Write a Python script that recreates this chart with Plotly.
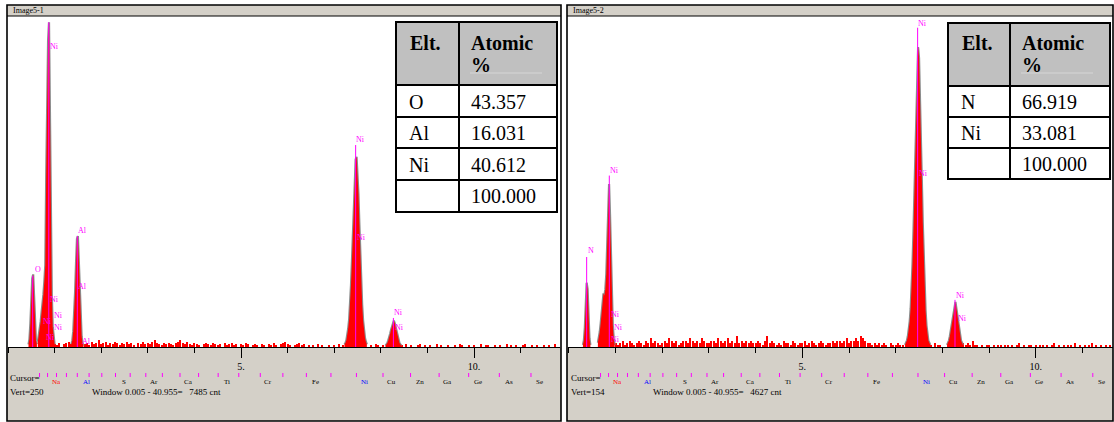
import plotly.graph_objects as go

W, H = 1114, 422

# ---------------- data ----------------
BG_STEP_KEV = 0.05  # channel-group width used for the background readings

left_bg_counts = [
    0, 0, 0, 0, 0, 0, 0, 0, 0, 0,
    0, 0, 0, 0, 0, 0, 0, 0, 0, 0,
    2, 1, 3, 0, 2, 3, 4, 2, 3, 0,
    0, 0, 0, 2, 3, 1, 4, 2, 3, 5,
    2, 3, 4, 1, 3, 2, 4, 3, 1, 3,
    2, 4, 2, 3, 1, 0, 3, 2, 4, 2,
    3, 2, 4, 5, 3, 2, 1, 3, 2, 3,
    2, 1, 3, 4, 5, 3, 2, 4, 2, 1,
    3, 2, 1, 0, 2, 3, 2, 1, 3, 2,
    1, 2, 0, 3, 1, 2, 3, 1, 2, 0,
    2, 1, 3, 2, 0, 1, 2, 1, 0, 2,
    1, 0, 2, 1, 3, 1, 0, 2, 3, 4,
    2, 1, 0, 1, 2, 3, 1, 2, 0, 1,
    0, 1, 0, 2, 0, 1, 0, 0, 1, 0,
    1, 0, 2, 0, 1, 0, 0, 0, 0, 0,
    0, 0, 0, 0, 0, 0, 1, 0, 2, 1,
    0, 1, 0, 0, 0, 0, 0, 0, 0, 1,
    0, 2, 0, 1, 0, 0, 1, 2, 0, 1,
    0, 1, 0, 0, 2, 0, 1, 0, 0, 1,
    0, 0, 1, 0, 2, 1, 0, 0, 1, 0,
    1, 0, 0, 2, 0, 1, 1, 0, 0, 1,
    0, 1, 0, 0, 2, 0, 1, 0, 1, 0,
    0, 1, 2, 0, 0, 1, 0, 1, 0, 0,
    1, 0, 1, 0, 0, 2, 0, 0,
]
right_bg_counts = [
    0, 0, 0, 0, 0, 0, 0, 0, 0, 0,
    0, 0, 0, 0, 0, 0, 0, 0, 0, 0,
    2, 1, 2, 3, 1, 2, 3, 2, 1, 2,
    3, 2, 1, 3, 2, 4, 2, 3, 2, 1,
    2, 3, 2, 4, 3, 2, 3, 1, 2, 3,
    3, 2, 4, 3, 2, 3, 2, 4, 3, 2,
    2, 3, 3, 2, 4, 3, 2, 3, 4, 2,
    3, 2, 5, 2, 3, 2, 3, 2, 3, 2,
    2, 3, 2, 1, 3, 5, 2, 3, 2, 1,
    2, 1, 3, 2, 2, 1, 3, 2, 1, 2,
    2, 3, 1, 2, 3, 2, 1, 2, 3, 2,
    1, 2, 2, 3, 2, 3, 3, 2, 3, 4,
    2, 3, 3, 4, 3, 5, 4, 3, 2, 2,
    1, 2, 1, 2, 1, 2, 1, 0, 2, 1,
    1, 2, 1, 1, 0, 0, 0, 0, 0, 0,
    0, 0, 0, 0, 0, 1, 0, 2, 1, 1,
    0, 0, 0, 0, 0, 0, 0, 0, 1, 2,
    1, 2, 1, 3, 1, 1, 0, 1, 0, 1,
    1, 0, 1, 0, 1, 1, 0, 1, 1, 0,
    1, 0, 1, 2, 0, 1, 0, 1, 1, 0,
    1, 0, 1, 1, 0, 1, 0, 1, 2, 0,
    1, 0, 1, 0, 1, 1, 0, 2, 0, 1,
    0, 1, 0, 1, 2, 0, 1, 0, 1, 0,
    1, 0, 1, 0, 1, 0, 1, 0,
]

# peaks, spectrum 5-1
left_O_keV = [0.44, 0.46, 0.48, 0.50, 0.52, 0.54, 0.56, 0.58, 0.60, 0.62]
left_O_counts = [2, 6, 18, 36, 52, 55, 40, 16, 5, 2]
left_NiL_keV = [0.64, 0.66, 0.68, 0.70, 0.72, 0.74, 0.76, 0.78, 0.80, 0.82,
                0.84, 0.86, 0.88, 0.90, 0.92, 0.94, 0.96, 0.98, 1.00]
left_NiL_counts = [4, 8, 13, 19, 26, 32, 40, 50, 62, 130,
                   195, 232, 246, 160, 90, 40, 15, 6, 2]
left_Al_keV = [1.36, 1.38, 1.40, 1.42, 1.44, 1.46, 1.48, 1.50, 1.52, 1.54,
               1.56, 1.58, 1.60, 1.62]
left_Al_counts = [2, 5, 12, 24, 42, 64, 82, 84, 66, 40, 20, 8, 3, 1]
left_NiKa_keV = [7.22, 7.24, 7.26, 7.28, 7.30, 7.32, 7.34, 7.36, 7.38, 7.40,
                 7.42, 7.44, 7.46, 7.48, 7.50, 7.52, 7.54, 7.56, 7.58, 7.60,
                 7.62, 7.64, 7.66, 7.68, 7.70]
left_NiKa_counts = [2, 3, 5, 9, 14, 21, 32, 47, 65, 86,
                    108, 128, 142, 144, 134, 116, 93, 70, 49, 32,
                    20, 12, 7, 4, 2]
left_NiKb_keV = [8.10, 8.12, 8.14, 8.16, 8.18, 8.20, 8.22, 8.24, 8.26, 8.28,
                 8.30, 8.32, 8.34, 8.36, 8.38, 8.40, 8.42, 8.44]
left_NiKb_counts = [1, 2, 3, 5, 7, 10, 13, 16, 19, 20, 18, 15, 11, 8, 5, 3, 2, 1]

# peaks, spectrum 5-2
right_N_keV = [0.30, 0.32, 0.34, 0.36, 0.38, 0.40, 0.42, 0.44, 0.46]
right_N_counts = [1, 3, 9, 22, 30, 27, 13, 4, 1]
right_NiL_keV = [0.62, 0.64, 0.66, 0.68, 0.70, 0.72, 0.74, 0.76, 0.78, 0.80,
                 0.82, 0.84, 0.86, 0.88, 0.90, 0.92, 0.94, 0.96, 0.98]
right_NiL_counts = [2, 4, 7, 11, 16, 22, 25, 24, 27, 34,
                    50, 68, 76, 62, 42, 24, 10, 4, 1]
right_NiKa_keV = [7.20, 7.22, 7.24, 7.26, 7.28, 7.30, 7.32, 7.34, 7.36, 7.38,
                  7.40, 7.42, 7.44, 7.46, 7.48, 7.50, 7.52, 7.54, 7.56, 7.58,
                  7.60, 7.62, 7.64, 7.66, 7.68, 7.70, 7.72, 7.74]
right_NiKa_counts = [1, 2, 3, 5, 8, 12, 18, 27, 39, 54,
                     72, 92, 114, 132, 140, 135, 120, 100, 78, 58,
                     41, 27, 17, 10, 6, 3, 2, 1]
right_NiKb_keV = [8.10, 8.12, 8.14, 8.16, 8.18, 8.20, 8.22, 8.24, 8.26, 8.28,
                  8.30, 8.32, 8.34, 8.36, 8.38, 8.40, 8.42, 8.44]
right_NiKb_counts = [1, 2, 3, 5, 8, 11, 14, 17, 20, 21, 18, 15, 11, 7, 5, 3, 2, 1]

# KLM marker lines: energy, top (counts)
left_marker_keV = [0.53, 0.875, 1.487, 7.46, 8.27]
left_marker_top = [54, 246, 84, 153, 22]
right_marker_keV = [0.38, 0.865, 7.47, 8.27]
right_marker_top = [42, 80, 149, 22]

# marker labels: text, energy, height (counts)
left_label_text = ["O", "Ni", "Ni", "Ni", "Ni", "Ni", "Ni", "Al", "Al", "Al", "Ni", "Ni", "Ni", "Ni"]
left_label_keV = [0.56, 0.87, 0.89, 0.965, 0.965, 0.73, 0.80, 1.49, 1.49, 1.57, 7.45, 7.47, 8.26, 8.28]
left_label_cnt = [59, 228, 36, 24, 15, 19, 7.5, 88, 46, 4.5, 157, 83, 26, 15]
right_label_text = ["N", "Ni", "Ni", "Ni", "Ni", "Ni", "Ni", "Ni", "Ni"]
right_label_keV = [0.39, 0.86, 0.88, 0.945, 0.88, 7.46, 7.48, 8.27, 8.31]
right_label_cnt = [45, 82.6, 15, 9.3, 3.3, 151, 81, 24, 13.5]

# element line marker row (keV) and element names shown beneath it
element_tick_keV = [0.677, 0.849, 1.041, 1.254, 1.487, 1.740, 2.013, 2.307, 2.622,
                    2.957, 3.313, 3.691, 4.090, 4.510, 4.952, 5.414, 5.898, 6.403,
                    6.930, 7.477, 8.047, 8.638, 9.251, 9.885, 10.543, 11.222]
element_names = ["Na", "Al", "S", "Ar", "Ca", "Ti", "Cr", "Fe", "Ni",
                 "Cu", "Zn", "Ga", "Ge", "As", "Se"]
element_name_keV = [1.045, 1.69, 2.49, 3.13, 3.88, 4.70, 5.58, 6.59, 7.65,
                    8.23, 8.83, 9.44, 10.08, 10.74, 11.40]
element_name_colors = ["#ff0000", "#0000ff", "#000", "#000", "#000", "#000", "#000",
                       "#000", "#0000ff", "#000", "#000", "#000", "#000", "#000", "#000"]

axis_tick_vals = [5, 10]
axis_tick_text = ["5.", "10."]

panel_titles = ["Image5-1", "Image5-2"]
vert_scale = [250, 154]
window_counts = [7485, 4627]

table_left_elements = ["O", "Al", "Ni", ""]
table_left_values = ["43.357", "16.031", "40.612", "100.000"]
table_right_elements = ["N", "Ni", ""]
table_right_values = ["66.919", "33.081", "100.000"]

# ---------------- helpers ----------------
def px(xp):
    return xp / W


def py(yp):
    return 1 - yp / H


RED = "#ff0000"
MAG = "#ff00ff"
PANEL_GRAY = "#d4d0c8"
SERIF = "Liberation Serif"

fig = go.Figure()
shapes = []
annotations = []

panels = [
    dict(xa="x", ya="y", frame=(7, 561), plot=(8, 560), xrange=[0, 11.845],
         bg=left_bg_counts,
         peaks=[(left_O_keV, left_O_counts), (left_NiL_keV, left_NiL_counts),
                (left_Al_keV, left_Al_counts), (left_NiKa_keV, left_NiKa_counts),
                (left_NiKb_keV, left_NiKb_counts)],
         mk=(left_marker_keV, left_marker_top),
         lab=(left_label_text, left_label_keV, left_label_cnt),
         text_x=8, win_x=90),
    dict(xa="x2", ya="y2", frame=(567, 1113), plot=(568, 1113), xrange=[-0.02, 11.655],
         bg=right_bg_counts,
         peaks=[(right_N_keV, right_N_counts), (right_NiL_keV, right_NiL_counts),
                (right_NiKa_keV, right_NiKa_counts), (right_NiKb_keV, right_NiKb_counts)],
         mk=(right_marker_keV, right_marker_top),
         lab=(right_label_text, right_label_keV, right_label_cnt),
         text_x=569, win_x=651),
]

Y_TOP, Y_BASE, Y_BOTTOM = 17, 347, 421

for i, p in enumerate(panels):
    xa, ya = p["xa"], p["ya"]
    fx0, fx1 = p["frame"]
    # gray lower area and title bar
    shapes.append(dict(type="rect", xref="paper", yref="paper", x0=px(fx0), x1=px(fx1),
                       y0=py(Y_BOTTOM), y1=py(Y_BASE), fillcolor=PANEL_GRAY,
                       line=dict(width=0), layer="below"))
    shapes.append(dict(type="rect", xref="paper", yref="paper", x0=px(fx0), x1=px(fx1),
                       y0=py(16), y1=py(5), fillcolor=PANEL_GRAY,
                       line=dict(width=0), layer="below"))
    shapes.append(dict(type="line", xref="paper", yref="paper", x0=px(fx0), x1=px(fx1),
                       y0=py(16), y1=py(16), line=dict(color="black", width=1.2)))
    shapes.append(dict(type="rect", xref="paper", yref="paper", x0=px(fx0), x1=px(fx1),
                       y0=py(Y_BOTTOM), y1=py(5), line=dict(color="black", width=1.6)))
    annotations.append(dict(xref="paper", yref="paper", x=px(fx0 + 4), y=py(11),
                            text=panel_titles[i], showarrow=False, xanchor="left",
                            yanchor="middle", font=dict(family=SERIF, size=8, color="black")))
    annotations.append(dict(xref="paper", yref="paper", x=px(p["text_x"]), y=py(378),
                            text="Cursor=", showarrow=False, xanchor="left", yanchor="middle",
                            font=dict(family=SERIF, size=9, color="black")))
    annotations.append(dict(xref="paper", yref="paper", x=px(p["text_x"]), y=py(392),
                            text=f"Vert={vert_scale[i]}", showarrow=False, xanchor="left",
                            yanchor="middle", font=dict(family=SERIF, size=9, color="black")))
    annotations.append(dict(xref="paper", yref="paper", x=px(p["win_x"]), y=py(392),
                            text=f"Window 0.005 - 40.955=\u00a0\u00a0\u00a0{window_counts[i]} cnt",
                            showarrow=False, xanchor="left", yanchor="middle",
                            font=dict(family=SERIF, size=9, color="black")))
    # element marker row
    for e in element_tick_keV:
        shapes.append(dict(type="line", xref=xa, yref="paper", x0=e, x1=e,
                           y0=py(377), y1=py(373), line=dict(color=MAG, width=1)))
    for name, e, c in zip(element_names, element_name_keV, element_name_colors):
        annotations.append(dict(xref=xa, yref="paper", x=e, y=py(382), text=name,
                                showarrow=False, xanchor="center", yanchor="middle",
                                borderpad=0,
                                font=dict(family=SERIF, size=7, color=c)))

    # gray outline, then red filled spectrum peaks
    for kev, cnt in p["peaks"]:
        fig.add_trace(go.Scatter(x=kev, y=cnt, mode="lines",
                                 line=dict(color="#8c8c8c", width=2.2),
                                 xaxis=xa, yaxis=ya, hoverinfo="skip", showlegend=False))
    for kev, cnt in p["peaks"]:
        fig.add_trace(go.Scatter(x=kev, y=cnt, mode="lines", fill="tozeroy",
                                 line=dict(color=RED, width=0), fillcolor=RED,
                                 xaxis=xa, yaxis=ya, hoverinfo="skip", showlegend=False))
    # red background noise bars
    bg_keV = [round(k * BG_STEP_KEV, 2) for k in range(len(p["bg"]))]
    fig.add_trace(go.Bar(x=bg_keV, y=p["bg"], width=0.025, marker=dict(color=RED, line=dict(width=0)),
                         xaxis=xa, yaxis=ya, showlegend=False, hoverinfo="skip"))
    # magenta KLM marker lines
    mx, my = [], []
    for e, t in zip(*p["mk"]):
        mx += [e, e, None]
        my += [0, t, None]
    fig.add_trace(go.Scatter(x=mx, y=my, mode="lines", line=dict(color=MAG, width=1),
                             xaxis=xa, yaxis=ya, showlegend=False, hoverinfo="skip"))
    for t, e, c in zip(*p["lab"]):
        annotations.append(dict(xref=xa, yref=ya, x=e, y=c, text=t, showarrow=False,
                                xanchor="left", yanchor="middle", borderpad=0,
                                font=dict(family=SERIF, size=8, color=MAG)))


# ---------------- tables ----------------
def add_table(x0, xdiv, x1, row_edges, elements, values):
    y_top = row_edges[0]
    shapes.append(dict(type="rect", xref="paper", yref="paper", x0=px(x0), x1=px(x1),
                       y0=py(row_edges[1]), y1=py(y_top), fillcolor="#c0c0c0",
                       line=dict(width=0)))
    shapes.append(dict(type="rect", xref="paper", yref="paper", x0=px(x0), x1=px(x1),
                       y0=py(row_edges[-1]), y1=py(row_edges[1]), fillcolor="white",
                       line=dict(width=0)))
    shapes.append(dict(type="line", xref="paper", yref="paper", x0=px(xdiv + 11), x1=px(xdiv + 83),
                       y0=py(73), y1=py(73), line=dict(color="#d6d6d6", width=1)))
    for yy in row_edges[1:-1]:
        shapes.append(dict(type="line", xref="paper", yref="paper", x0=px(x0), x1=px(x1),
                           y0=py(yy), y1=py(yy), line=dict(color="black", width=2)))
    shapes.append(dict(type="line", xref="paper", yref="paper", x0=px(xdiv), x1=px(xdiv),
                       y0=py(row_edges[-1]), y1=py(y_top), line=dict(color="black", width=2)))
    shapes.append(dict(type="rect", xref="paper", yref="paper", x0=px(x0), x1=px(x1),
                       y0=py(row_edges[-1]), y1=py(y_top), line=dict(color="black", width=2)))
    fnt = dict(family=SERIF, size=20, color="black")
    annotations.append(dict(xref="paper", yref="paper", x=px(x0 + 13), y=py(43),
                            text="<b>Elt.</b>", showarrow=False, xanchor="left",
                            yanchor="middle", font=fnt, borderpad=0))
    annotations.append(dict(xref="paper", yref="paper", x=px(xdiv + 11), y=py(43),
                            text="<b>Atomic</b>", showarrow=False, xanchor="left",
                            yanchor="middle", font=fnt, borderpad=0))
    annotations.append(dict(xref="paper", yref="paper", x=px(xdiv + 11), y=py(65),
                            text="<b>%</b>", showarrow=False, xanchor="left",
                            yanchor="middle", font=fnt, borderpad=0))
    for k, (el, v) in enumerate(zip(elements, values)):
        yc = (row_edges[k + 1] + row_edges[k + 2]) / 2 + 0.5
        if el:
            annotations.append(dict(xref="paper", yref="paper", x=px(x0 + 12), y=py(yc),
                                    text=el, showarrow=False, xanchor="left",
                                    yanchor="middle", font=fnt, borderpad=0))
        annotations.append(dict(xref="paper", yref="paper", x=px(xdiv + 11), y=py(yc),
                                text=v, showarrow=False, xanchor="left",
                                yanchor="middle", font=fnt, borderpad=0))


add_table(396, 459, 557, [22, 85, 117, 148, 180, 212], table_left_elements, table_left_values)
add_table(948, 1010, 1110, [23, 86, 117, 148, 179], table_right_elements, table_right_values)

# ---------------- axes ----------------
def xaxis_cfg(p, anchor):
    return dict(domain=[px(p["plot"][0]), px(p["plot"][1])], range=p["xrange"], anchor=anchor,
                showgrid=False, zeroline=False, showline=True, linecolor="black", linewidth=1,
                ticks="outside", ticklen=10, tickcolor="black", tickwidth=1,
                tickmode="array", tickvals=axis_tick_vals, ticktext=axis_tick_text,
                tickfont=dict(family=SERIF, size=10, color="black"),
                minor=dict(tickmode="linear", tick0=0, dtick=1, ticklen=5, ticks="outside",
                           tickcolor="black", tickwidth=1),
                fixedrange=True)


def yaxis_cfg(top, anchor):
    return dict(domain=[py(Y_BASE), py(Y_TOP)], range=[0, top], anchor=anchor,
                showgrid=False, zeroline=False, showline=False, showticklabels=False,
                ticks="", fixedrange=True)


fig.update_layout(
    width=W, height=H, margin=dict(l=0, r=0, t=0, b=0),
    paper_bgcolor="white", plot_bgcolor="white",
    barmode="overlay", bargap=0, showlegend=False,
    xaxis=xaxis_cfg(panels[0], "y"), yaxis=yaxis_cfg(vert_scale[0], "x"),
    xaxis2=xaxis_cfg(panels[1], "y2"), yaxis2=yaxis_cfg(vert_scale[1], "x2"),
    shapes=shapes, annotations=annotations,
)

fig.write_html(
    "out.html",
    config={"displayModeBar": False},
    post_script="document.body.style.margin='0';document.body.style.overflow='hidden';",
)
